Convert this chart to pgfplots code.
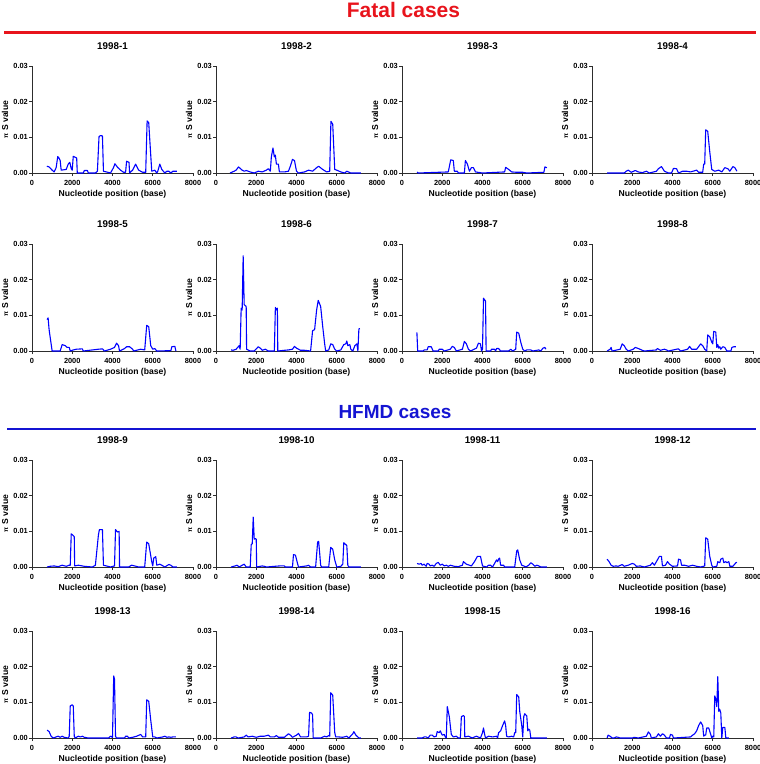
\documentclass[border=0pt]{standalone}
\usepackage{pgfplots}
\pgfplotsset{compat=1.18}
\usepackage{fontspec}
\setmainfont{Liberation Sans}
\definecolor{dblue}{RGB}{28,28,205}
\definecolor{axgray}{RGB}{45,45,45}
\definecolor{hred}{RGB}{232,20,28}
\definecolor{hblue}{RGB}{20,20,210}
\newcommand{\ticksize}{\bfseries\fontsize{7.4}{8}\selectfont}
\newcommand{\labsize}{\bfseries\fontsize{8.6}{10}\selectfont}
\newcommand{\titsize}{\bfseries\fontsize{9.8}{11}\selectfont}
\pgfplotsset{
  panel/.style={
    scale only axis, width=161pt, height=107pt,
    anchor=south west,
    xmin=0, xmax=8000, ymin=0, ymax=0.03,
    axis lines=left,
    axis line style={-, line width=0.9pt, color=axgray},
    xtick={0,2000,4000,6000,8000}, ytick={0,0.01,0.02,0.03},
    tick align=outside, major tick length=3pt,
    tick style={line width=0.8pt, color=axgray},
    scaled y ticks=false, scaled x ticks=false,
    /pgf/number format/assume math mode=true,
    yticklabel style={/pgf/number format/fixed, /pgf/number format/fixed zerofill, /pgf/number format/precision=2, font=\ticksize, anchor=east, inner sep=0pt, xshift=-1pt},
    xticklabel style={/pgf/number format/set thousands separator={}, font=\ticksize, anchor=base, inner sep=0pt, yshift=-9pt},
    title style={at={(axis description cs:0.5,1.095)}, anchor=base, font=\titsize, inner sep=0pt},
    xlabel={Nucleotide position (base)},
    ylabel={{\fontsize{6.5}{7}\selectfont π} S value},
    xlabel style={at={(axis description cs:0.5,-0.215)}, anchor=base, font=\labsize, inner sep=0pt},
    ylabel style={at={(axis description cs:-0.168,0.5)}, anchor=center, font=\labsize, inner sep=0pt},
    clip=false,
    every axis plot/.append style={color=dblue, line width=1.1pt, no marks, line join=round},
  }
}
\begin{document}
\begin{tikzpicture}[x=1pt,y=1pt]
\path[use as bounding box] (0,0) rectangle (760,-764);
\node[anchor=base, text=hred, font=\bfseries\fontsize{21}{24}\selectfont] at (403.5,-17.5) {Fatal cases};
\draw[hred, line width=2.3pt] (4,-32.5) -- (756,-32.5);
\node[anchor=base, text=hblue, font=\bfseries\fontsize{19}{22}\selectfont] at (395,-418) {HFMD cases};
\draw[hblue, line width=2pt] (7,-428.7) -- (756,-428.7);

% Row 1
\begin{axis}[panel, at={(32pt,-173pt)}, title={1998-1}]
\addplot coordinates {(740,0.0019)(850,0.0017)(1000,0.0008)(1100,0.0003)(1200,0.0015)(1280,0.0046)(1330,0.0043)(1400,0.0035)(1450,0.0008)(1700,0.001)(1800,0.0025)(1880,0.003)(1950,0.0012)(2000,0.0008)(2050,0.0047)(2150,0.0044)(2220,0.0042)(2250,0.0)(2550,0.0)(2600,0.0007)(2750,0.0007)(2800,0.0)(3150,0.0)(3250,0.0005)(3330,0.0102)(3400,0.0105)(3500,0.0104)(3550,0.0005)(3700,0.0003)(3900,0.0)(4050,0.0015)(4120,0.0026)(4250,0.0016)(4400,0.0008)(4550,0.0002)(4650,0.0002)(4700,0.0033)(4820,0.003)(4850,0.0)(5000,0.0008)(5150,0.0025)(5300,0.0008)(5500,0.0002)(5650,0.0002)(5720,0.0146)(5800,0.0141)(5950,0.0005)(6100,0.0008)(6200,0.0)(6250,0.0005)(6350,0.0025)(6450,0.001)(6600,0.0)(6700,0.0005)(6800,0.0005)(6900,0.0)(7000,0.0005)(7200,0.0005)};
\end{axis}
\begin{axis}[panel, at={(216pt,-173pt)}, title={1998-2}]
\addplot coordinates {(700,0.0)(900,0.0005)(1000,0.0008)(1120,0.0017)(1300,0.0008)(1400,0.0005)(1500,0.0007)(1700,0.0003)(1900,0.0)(2100,0.0005)(2300,0.0003)(2500,0.0008)(2600,0.0012)(2700,0.0005)(2750,0.0045)(2830,0.007)(2900,0.0045)(2950,0.005)(3000,0.0025)(3100,0.0025)(3150,0.0003)(3400,0.0003)(3600,0.0005)(3700,0.002)(3800,0.0038)(3900,0.0035)(4000,0.0005)(4100,0.0)(4400,0.0003)(4600,0.0008)(4800,0.0005)(5000,0.0015)(5100,0.0019)(5300,0.001)(5500,0.0003)(5650,0.0005)(5710,0.0145)(5800,0.0137)(5900,0.001)(6000,0.0008)(6200,0.0003)(6400,0.0)(6500,0.0005)(6700,0.0)(7200,0.0)};
\end{axis}
\begin{axis}[panel, at={(402pt,-173pt)}, title={1998-3}]
\addplot coordinates {(750,0.0003)(800,0.0)(2300,0.0003)(2420,0.0037)(2550,0.0035)(2600,0.0005)(2750,0.0005)(2800,0.0)(3100,0.0)(3150,0.0035)(3250,0.0025)(3350,0.0005)(3450,0.0015)(3550,0.0015)(3650,0.0003)(4000,0.0)(5100,0.0003)(5150,0.0016)(5300,0.001)(5450,0.0003)(5700,0.0002)(6000,0.0002)(6200,0.0)(7050,0.0002)(7100,0.0017)(7200,0.0015)};
\end{axis}
\begin{axis}[panel, at={(592pt,-173pt)}, title={1998-4}]
\addplot coordinates {(750,0.0)(1600,0.0)(1700,0.0005)(1800,0.0008)(1950,0.0002)(2150,0.0007)(2300,0.0003)(2500,0.0001)(2700,0.0005)(2850,0.0)(3200,0.0005)(3300,0.0012)(3450,0.0018)(3600,0.0005)(3800,0.0)(3950,0.0)(4050,0.0013)(4200,0.0012)(4300,0.0)(4500,0.0005)(4700,0.0005)(4900,0.0003)(5200,0.0008)(5300,0.0002)(5500,0.0002)(5550,0.0025)(5600,0.0025)(5650,0.0121)(5750,0.0117)(5850,0.006)(5950,0.001)(6100,0.0005)(6300,0.0008)(6450,0.0003)(6600,0.0015)(6750,0.0012)(6850,0.0005)(7000,0.0018)(7100,0.0015)(7200,0.0005)};
\end{axis}

% Row 2
\begin{axis}[panel, at={(32pt,-351pt)}, title={1998-5}]
\addplot coordinates {(750,0.0088)(800,0.0093)(850,0.006)(950,0.002)(1000,0.0)(1400,0.0)(1500,0.0018)(1650,0.0015)(1750,0.001)(1850,0.001)(1900,0.0)(2050,0.0003)(2200,0.0005)(2500,0.0006)(2550,0.0)(3300,0.0005)(3500,0.0006)(3600,0.0)(3900,0.0005)(4100,0.001)(4200,0.0022)(4300,0.0015)(4350,0.0)(4600,0.0007)(4700,0.0012)(4850,0.0012)(5000,0.0005)(5050,0.0)(5400,0.0005)(5600,0.0003)(5700,0.0072)(5800,0.0068)(5900,0.0015)(6000,0.0005)(6100,0.0007)(6200,0.0)(6900,0.0001)(6950,0.0012)(7100,0.0013)(7150,0.0)};
\end{axis}
\begin{axis}[panel, at={(216pt,-351pt)}, title={1998-6}]
\addplot coordinates {(750,0.0003)(850,0.0002)(1000,0.0005)(1150,0.0015)(1200,0.0005)(1250,0.012)(1300,0.0115)(1350,0.0267)(1400,0.013)(1500,0.0125)(1520,0.0005)(1700,0.0)(1900,0.0)(2100,0.0012)(2200,0.0008)(2300,0.0002)(2450,0.0005)(2600,0.0)(2900,0.0)(2950,0.0122)(3000,0.0115)(3050,0.012)(3070,0.0)(3400,0.0002)(3600,0.0003)(3800,0.0005)(3900,0.0013)(4000,0.0008)(4200,0.0002)(4400,0.0002)(4700,0.0)(4800,0.0057)(4900,0.006)(5000,0.0115)(5080,0.0142)(5200,0.0125)(5300,0.007)(5400,0.002)(5450,0.0)(5600,0.0003)(5700,0.002)(5800,0.0018)(5900,0.0005)(6000,0.0)(6200,0.0003)(6350,0.0018)(6450,0.002)(6500,0.0028)(6550,0.0015)(6650,0.0018)(6700,0.0005)(6800,0.0)(6900,0.0015)(7000,0.002)(7050,0.0)(7100,0.0062)(7150,0.0063)};
\end{axis}
\begin{axis}[panel, at={(402pt,-351pt)}, title={1998-7}]
\addplot coordinates {(740,0.0052)(780,0.0)(1050,0.0)(1100,0.0003)(1250,0.0003)(1300,0.0012)(1450,0.0012)(1550,0.0)(1800,0.0)(1850,0.0005)(2000,0.0005)(2100,0.0)(2400,0.0005)(2500,0.0013)(2600,0.001)(2700,0.0)(3000,0.0005)(3100,0.0027)(3200,0.002)(3300,0.0005)(3400,0.0)(3700,0.0008)(3800,0.0022)(3900,0.002)(3950,0.0)(4000,0.0005)(4050,0.0148)(4150,0.014)(4180,0.0)(4400,0.0)(4450,0.0005)(4600,0.0005)(4650,0.0)(4700,0.0007)(4800,0.0007)(4900,0.0)(5300,0.0)(5400,0.0005)(5500,0.0)(5650,0.0005)(5700,0.0053)(5800,0.005)(5900,0.0025)(6000,0.0005)(6100,0.0)(6200,0.0003)(6400,0.0003)(6500,0.0)(6800,0.0003)(6900,0.0)(7000,0.0008)(7100,0.001)(7150,0.0005)};
\end{axis}
\begin{axis}[panel, at={(592pt,-351pt)}, title={1998-8}]
\addplot coordinates {(750,0.0)(900,0.0005)(950,0.001)(1000,0.0)(1400,0.0005)(1500,0.002)(1600,0.0015)(1700,0.0005)(1800,0.0)(2050,0.0005)(2150,0.001)(2300,0.0007)(2500,0.0002)(2600,0.0)(3200,0.0003)(3250,0.0007)(3400,0.0002)(3600,0.0005)(3700,0.0003)(3800,0.0)(4200,0.0005)(4300,0.0006)(4400,0.0)(4750,0.0005)(4850,0.0013)(4950,0.0005)(5200,0.0005)(5400,0.002)(5500,0.0015)(5600,0.0005)(5700,0.0)(5750,0.0045)(5850,0.004)(5950,0.0025)(6000,0.002)(6050,0.0055)(6150,0.0053)(6200,0.001)(6250,0.0018)(6300,0.0008)(6350,0.0012)(6400,0.0005)(6500,0.0012)(6600,0.001)(6700,0.0)(6900,0.0)(6950,0.001)(7050,0.0012)(7150,0.0012)};
\end{axis}

% Row 3
\begin{axis}[panel, at={(32pt,-567pt)}, title={1998-9}]
\addplot coordinates {(750,0.0)(900,0.0002)(1100,0.0003)(1300,0.0001)(1500,0.0005)(1700,0.0002)(1850,0.0005)(1900,0.0005)(1950,0.0093)(2050,0.0088)(2100,0.0085)(2120,0.0003)(2300,0.0005)(2600,0.0002)(3000,0.0)(3150,0.0005)(3300,0.009)(3350,0.0105)(3500,0.0105)(3550,0.0005)(3700,0.0003)(3900,0.0)(4100,0.0003)(4150,0.0105)(4250,0.0098)(4330,0.01)(4350,0.0)(4800,0.0)(4950,0.0005)(5100,0.0003)(5300,0.0)(5600,0.0)(5700,0.007)(5800,0.0065)(5950,0.0015)(6000,0.0003)(6050,0.0025)(6150,0.0029)(6200,0.0005)(6350,0.0008)(6450,0.0005)(6600,0.0)(6800,0.0007)(6900,0.0005)(7000,0.0)(7200,0.0)};
\end{axis}
\begin{axis}[panel, at={(216pt,-567pt)}, title={1998-10}]
\addplot coordinates {(750,0.0)(950,0.0003)(1050,0.0005)(1150,0.0)(1300,0.0005)(1400,0.0008)(1500,0.0)(1700,0.0)(1750,0.0063)(1800,0.0065)(1850,0.014)(1900,0.0078)(1950,0.008)(2000,0.0078)(2020,0.0)(2300,0.0003)(2400,0.0002)(2500,0.0)(3150,0.0003)(3400,0.0003)(3450,0.0)(3800,0.0)(3850,0.0035)(3950,0.0033)(4050,0.001)(4100,0.0)(4500,0.0003)(4600,0.0005)(4700,0.0)(4950,0.0)(5050,0.007)(5100,0.0072)(5150,0.004)(5200,0.0005)(5250,0.0)(5600,0.0)(5700,0.0055)(5800,0.005)(5900,0.002)(6000,0.0)(6200,0.0002)(6300,0.0008)(6350,0.0068)(6450,0.0063)(6500,0.006)(6550,0.0005)(6600,0.0)(7200,0.0)};
\end{axis}
\begin{axis}[panel, at={(402pt,-567pt)}, title={1998-11}]
\addplot coordinates {(750,0.001)(850,0.0008)(950,0.001)(1000,0.0005)(1100,0.0008)(1200,0.0002)(1250,0.001)(1350,0.0008)(1400,0.0003)(1500,0.0005)(1600,0.0002)(1700,0.001)(1800,0.0013)(1900,0.0005)(2000,0.0008)(2100,0.0003)(2200,0.0005)(2300,0.0002)(2400,0.0005)(2600,0.0002)(2800,0.0001)(3000,0.0005)(3050,0.0015)(3200,0.0008)(3350,0.0005)(3450,0.0003)(3600,0.0015)(3750,0.003)(3900,0.003)(4000,0.0003)(4200,0.0)(4300,0.0005)(4400,0.0005)(4500,0.0)(4600,0.001)(4700,0.002)(4750,0.0015)(4800,0.0022)(4850,0.0025)(4900,0.0005)(5050,0.0005)(5100,0.0)(5600,0.0)(5700,0.0045)(5750,0.0048)(5850,0.002)(5950,0.0005)(6050,0.0003)(6150,0.0)(6300,0.0005)(6400,0.0012)(6500,0.0008)(6600,0.0002)(6700,0.0005)(6800,0.0003)(6900,0.0)(7200,0.0)};
\end{axis}
\begin{axis}[panel, at={(592pt,-567pt)}, title={1998-12}]
\addplot coordinates {(750,0.0022)(850,0.0015)(950,0.0005)(1050,0.0002)(1200,0.0003)(1300,0.0002)(1500,0.0007)(1600,0.0002)(1800,0.0005)(2000,0.001)(2100,0.0008)(2200,0.0002)(2400,0.0003)(2600,0.0)(2900,0.0005)(3000,0.0012)(3100,0.0005)(3250,0.002)(3350,0.003)(3450,0.003)(3500,0.0003)(3650,0.0005)(3750,0.0015)(3850,0.0008)(4000,0.0002)(4250,0.0003)(4300,0.0022)(4400,0.002)(4450,0.0005)(4600,0.0005)(4800,0.0002)(5000,0.0005)(5200,0.0002)(5400,0.0)(5600,0.0003)(5650,0.0082)(5750,0.0078)(5850,0.003)(5950,0.0005)(6000,0.0)(6200,0.0002)(6250,0.0015)(6350,0.0012)(6400,0.0022)(6500,0.0025)(6550,0.0012)(6650,0.0015)(6700,0.0012)(6800,0.0015)(6850,0.0002)(7000,0.0002)(7150,0.0012)(7200,0.0013)};
\end{axis}

% Row 4
\begin{axis}[panel, at={(32pt,-738pt)}, title={1998-13}]
\addplot coordinates {(750,0.0022)(850,0.0018)(950,0.0005)(1050,0.0)(1200,0.0003)(1300,0.0005)(1400,0.0002)(1500,0.0005)(1600,0.0002)(1800,0.0)(1850,0.0005)(1900,0.009)(2000,0.0093)(2050,0.009)(2100,0.0005)(2150,0.0)(2300,0.0005)(2400,0.0003)(2500,0.0005)(2600,0.0002)(2800,0.0)(3800,0.0)(3900,0.0005)(4000,0.0002)(4060,0.0174)(4100,0.0165)(4150,0.0005)(4200,0.0)(4600,0.0)(4650,0.0005)(4750,0.0005)(4800,0.0)(5000,0.0002)(5200,0.0005)(5400,0.001)(5500,0.0003)(5650,0.0003)(5700,0.0107)(5800,0.0103)(5900,0.005)(6000,0.0003)(6100,0.0003)(6200,0.0)(6500,0.0003)(6600,0.0005)(6700,0.0002)(6800,0.0003)(6900,0.0002)(7000,0.0003)(7150,0.0003)};
\end{axis}
\begin{axis}[panel, at={(216pt,-738pt)}, title={1998-14}]
\addplot coordinates {(750,0.0)(900,0.0003)(1000,0.0003)(1100,0.0)(1400,0.0003)(1500,0.0008)(1600,0.0003)(1800,0.0005)(2000,0.0002)(2200,0.0005)(2400,0.0005)(2600,0.0008)(2700,0.0003)(2900,0.0003)(3000,0.0007)(3100,0.0002)(3400,0.0002)(3600,0.0012)(3700,0.0008)(3800,0.0002)(4000,0.0008)(4100,0.0013)(4200,0.0003)(4500,0.0003)(4600,0.0005)(4650,0.0072)(4750,0.007)(4800,0.0065)(4830,0.0)(5200,0.0)(5400,0.0005)(5500,0.0003)(5600,0.0007)(5650,0.0005)(5700,0.0127)(5800,0.012)(5900,0.0015)(5950,0.0003)(6100,0.0003)(6300,0.0002)(6500,0.0005)(6600,0.0)(6800,0.0012)(6850,0.0018)(6950,0.0008)(7100,0.0)(7200,0.0)};
\end{axis}
\begin{axis}[panel, at={(402pt,-738pt)}, title={1998-15}]
\addplot coordinates {(750,0.0)(1000,0.0)(1100,0.0003)(1200,0.0003)(1300,0.0)(1400,0.0008)(1500,0.0008)(1600,0.0003)(1700,0.0005)(1750,0.0018)(1850,0.0015)(1900,0.002)(2000,0.0008)(2100,0.001)(2150,0.0003)(2200,0.0)(2250,0.0088)(2350,0.006)(2450,0.001)(2550,0.0003)(2700,0.0005)(2800,0.0)(2900,0.0)(2950,0.006)(3050,0.0063)(3100,0.006)(3120,0.0003)(3300,0.0005)(3500,0.0)(3600,0.0003)(3700,0.0005)(3900,0.0)(4000,0.0015)(4050,0.0028)(4100,0.0012)(4150,0.0)(4300,0.0005)(4500,0.0003)(4700,0.0005)(4750,0.0)(4800,0.0015)(4900,0.002)(5000,0.0035)(5100,0.0048)(5150,0.0035)(5200,0.0005)(5300,0.0003)(5450,0.0005)(5550,0.0003)(5600,0.0015)(5650,0.0015)(5700,0.0122)(5800,0.0115)(5850,0.0075)(5950,0.0035)(6000,0.0003)(6050,0.006)(6100,0.0068)(6200,0.0062)(6250,0.002)(6300,0.0025)(6350,0.0022)(6400,0.0)(7200,0.0)};
\end{axis}
\begin{axis}[panel, at={(592pt,-738pt)}, title={1998-16}]
\addplot coordinates {(750,0.0)(800,0.0008)(900,0.0005)(1000,0.0)(1100,0.0)(1200,0.0003)(1300,0.0002)(1400,0.0)(2000,0.0)(2100,0.0002)(2300,0.0)(2700,0.0005)(2800,0.0017)(2900,0.001)(2950,0.0)(3200,0.0003)(3300,0.0012)(3400,0.0005)(3500,0.0012)(3600,0.0008)(3700,0.0)(3850,0.0)(3900,0.001)(4000,0.0008)(4050,0.0)(4900,0.0003)(5000,0.0008)(5100,0.0012)(5200,0.002)(5300,0.0035)(5400,0.0045)(5500,0.0035)(5550,0.0005)(5600,0.0008)(5650,0.0008)(5700,0.0028)(5800,0.0028)(5900,0.001)(5950,0.0)(6000,0.0005)(6050,0.0003)(6100,0.0118)(6150,0.011)(6200,0.0088)(6250,0.0172)(6300,0.0075)(6350,0.008)(6400,0.007)(6450,0.0)(6500,0.003)(6600,0.003)(6650,0.0)(6800,0.0)};
\end{axis}
\end{tikzpicture}
\end{document}
